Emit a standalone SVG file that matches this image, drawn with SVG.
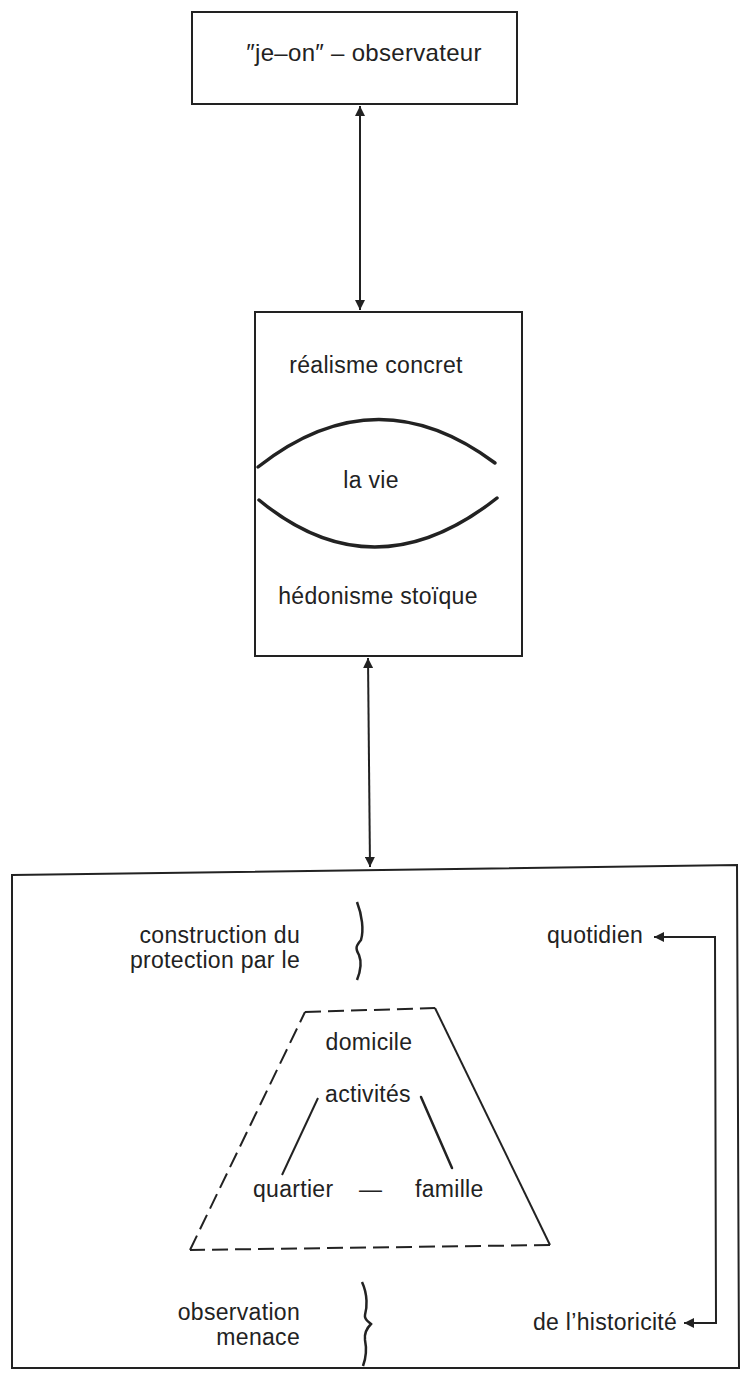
<svg xmlns="http://www.w3.org/2000/svg" width="746" height="1373" viewBox="0 0 746 1373">
<style>
text{font-family:"Liberation Sans",Arial,sans-serif;font-size:23px;letter-spacing:0.3px;fill:#222}
.box{fill:none;stroke:#222;stroke-width:2}
.ln{fill:none;stroke:#222;stroke-width:2}
.brace{fill:none;stroke:#222;stroke-width:2.5}
.dash{fill:none;stroke:#222;stroke-width:2;stroke-dasharray:16 7}
.thick{fill:none;stroke:#222;stroke-width:3.5;stroke-linecap:round}
.mid{text-anchor:middle}
.end{text-anchor:end}
</style>
<defs>
<marker id="ah" viewBox="0 0 10 10" refX="10" refY="5" markerWidth="10" markerHeight="10" markerUnits="userSpaceOnUse" orient="auto-start-reverse">
<path d="M0,0 L10,5 L0,10 z" fill="#222"/>
</marker>
</defs>
<rect width="746" height="1373" fill="#fff"/>
<g id="observateur">
<rect class="box" x="192" y="12" width="325" height="92"/>
<text class="mid" x="364" y="61" style="font-size:24px">″je–on″ – observateur</text>
</g>
<g id="vie">
<rect class="box" x="255" y="312" width="267" height="344"/>
<text class="mid" x="376" y="373">réalisme concret</text>
<path class="thick" d="M258,467 Q376,374 495,463"/>
<text class="mid" x="371" y="488">la vie</text>
<path class="thick" d="M259,500 Q374,595 497,498"/>
<text class="mid" x="378" y="604">hédonisme stoïque</text>
</g>
<g id="quotidien-historicite">
<path class="box" d="M12,875 L737,865 L739,1368 L12,1368 Z"/>
<text class="end" x="300" y="943">construction du</text>
<text class="end" x="300" y="968">protection par le</text>
<path class="brace" d="M357,902 C362,915 364,930 361,940 C356,946 355,948 359,955 C363,965 359,975 357,980"/>
<text x="547" y="943">quotidien</text>
<g id="trapeze">
<path class="dash" d="M305,1012 L435,1008"/>
<path class="ln" d="M435,1008 L550,1245"/>
<path class="dash" d="M550,1245 L190,1250"/>
<path class="dash" d="M190,1250 L305,1012"/>
<text class="mid" x="369" y="1050">domicile</text>
<text class="mid" x="368" y="1102">activités</text>
<path class="ln" d="M318,1098 L282,1175"/>
<path class="thick" style="stroke-width:2.5" d="M421,1097 L452,1168"/>
<text x="253" y="1197">quartier</text>
<text x="359" y="1197">—</text>
<text x="415" y="1197">famille</text>
</g>
<text class="end" x="300" y="1320">observation</text>
<text class="end" x="300" y="1345">menace</text>
<path class="brace" d="M362,1282 C368,1295 367,1308 365,1315 C364,1320 369,1322 371,1324 C367,1328 364,1333 365,1340 C367,1350 366,1358 363,1366"/>
<text x="533" y="1330">de l’historicité</text>
</g>
<g id="connectors">
<line class="ln" x1="360" y1="106" x2="360" y2="310" marker-start="url(#ah)" marker-end="url(#ah)"/>
<line class="ln" x1="368" y1="658" x2="370" y2="867" marker-start="url(#ah)" marker-end="url(#ah)"/>
<path class="ln" d="M715,937 L716,1323 L684,1323" marker-end="url(#ah)"/>
<path class="ln" d="M716,937 L654,937" marker-end="url(#ah)"/>
</g>
</svg>
